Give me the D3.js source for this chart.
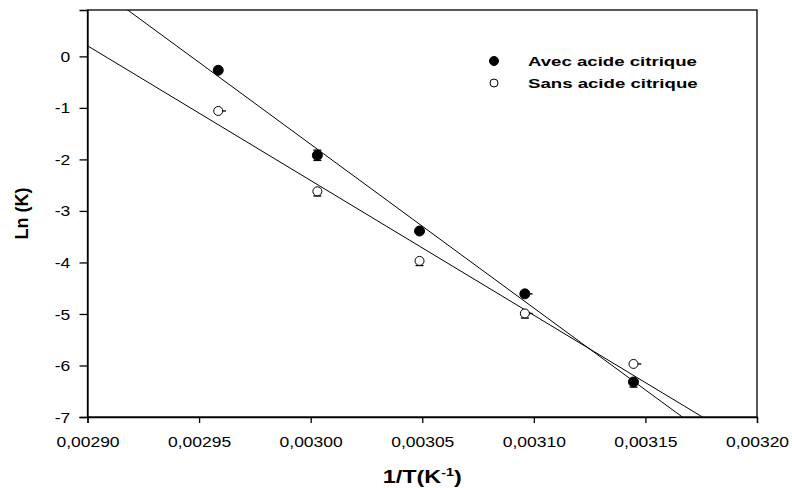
<!DOCTYPE html>
<html>
<head>
<meta charset="utf-8">
<script src="https://cdn.jsdelivr.net/npm/d3@7"></script>
<style>
  body { margin: 0; background: #fff; }
  text { font-family: "Liberation Sans", Arial, sans-serif; fill: #000; }
</style>
</head>
<body>
<div id="chart"></div>
<script>
// 1/T values (K^-1), T = 338, 333, 328, 323, 318 K
const invT = [1 / 338, 1 / 333, 1 / 328, 1 / 323, 1 / 318];
const lnAvec = [-0.27, -1.92, -3.39, -4.61, -6.32];
const lnSans = [-1.06, -2.62, -3.97, -4.99, -5.97];
// error bars (ln units / 1/T units)
const avecErrUp = [0, 0.1, 0, 0, 0];
const avecErrDown = [0, 0.1, 0, 0, 0.1];
const avecErrX = [0, 0, 0, 0.0000035, 0];
const sansErrUp = [0, 0, 0, 0, 0];
const sansErrDown = [0, 0.09, 0.09, 0.09, 0];
const sansErrX = [0.0000035, 0, 0, 0.0000035, 0.0000035];
const xTicks = [0.0029, 0.00295, 0.003, 0.00305, 0.0031, 0.00315, 0.0032];
const yTicks = [0, -1, -2, -3, -4, -5, -6, -7];
const legendLabels = ['Avec acide citrique', 'Sans acide citrique'];

const width = 792, height = 488;
const margin = { top: 10, right: 35, bottom: 71, left: 87.5 };
const sx = 1.25; // horizontal text stretch of the original

const svg = d3.select('#chart').append('svg')
    .attr('width', width)
    .attr('height', height);

const x = d3.scaleLinear().domain([0.0029, 0.0032]).range([margin.left, width - margin.right]);
const y = d3.scaleLinear().domain([-7, 0.9]).range([height - margin.bottom, margin.top]);

svg.append('clipPath').attr('id', 'plotClip')
    .append('rect')
    .attr('x', x.range()[0]).attr('y', y.range()[1])
    .attr('width', x.range()[1] - x.range()[0])
    .attr('height', y.range()[0] - y.range()[1]);

// frame
svg.append('rect')
    .attr('x', x.range()[0]).attr('y', y.range()[1])
    .attr('width', x.range()[1] - x.range()[0])
    .attr('height', y.range()[0] - y.range()[1])
    .attr('fill', 'none')
    .attr('stroke', '#000')
    .attr('stroke-width', 1.3);

const xAxis = svg.append('g')
    .attr('transform', 'translate(0,' + y.range()[0] + ')')
    .call(d3.axisBottom(x).tickValues(xTicks).tickSize(6)
        .tickFormat(d => d3.format('.5f')(d).replace('.', ',')));
xAxis.select('.domain').attr('stroke-width', 1.3);
xAxis.selectAll('line').attr('stroke-width', 1.3);
xAxis.selectAll('text')
    .attr('y', 30).attr('dy', 0)
    .attr('transform', 'scale(' + sx + ',1)')
    .style('font-size', '14px');

const yAxis = svg.append('g')
    .attr('transform', 'translate(' + x.range()[0] + ',0)')
    .call(d3.axisLeft(y).tickValues(yTicks).tickSize(8).tickFormat(d => String(d)));
yAxis.select('.domain').attr('stroke-width', 1.3);
yAxis.selectAll('line').attr('stroke-width', 1.3);
yAxis.selectAll('text')
    .attr('x', -17.3 / sx).attr('dy', '0.36em')
    .attr('transform', 'scale(' + sx + ',1)')
    .style('font-size', '14px');

// axis titles
const xTitle = svg.append('text')
    .attr('transform', 'translate(' + ((x.range()[0] + x.range()[1]) / 2) + ',483) scale(1.3,1)')
    .attr('text-anchor', 'middle')
    .style('font-size', '18px')
    .style('font-weight', 'bold');
xTitle.append('tspan').text('1/T(K');
xTitle.append('tspan').attr('dy', -7).style('font-size', '11px').text('-1');
xTitle.append('tspan').attr('dy', 7).text(')');

svg.append('text')
    .attr('transform', 'translate(28,' + ((y.range()[0] + y.range()[1]) / 2) + ') rotate(-90)')
    .attr('text-anchor', 'middle')
    .style('font-size', '18px')
    .style('font-weight', 'bold')
    .text('Ln (K)');

// least squares regression
function fit(xs, ys) {
    const mx = d3.mean(xs), my = d3.mean(ys);
    let sxy = 0, sxx = 0;
    xs.forEach((v, i) => { sxy += (v - mx) * (ys[i] - my); sxx += (v - mx) * (v - mx); });
    const b = sxy / sxx;
    return { b: b, a: my - b * mx };
}

const series = [
    { ys: lnAvec, up: avecErrUp, down: avecErrDown, ex: avecErrX, fill: '#000', r: 5 },
    { ys: lnSans, up: sansErrUp, down: sansErrDown, ex: sansErrX, fill: '#fff', r: 4.5 }
];

const plot = svg.append('g').attr('clip-path', 'url(#plotClip)');

series.forEach(s => {
    const f = fit(invT, s.ys);
    const dom = x.domain();
    plot.append('path')
        .datum(dom.map(v => [v, f.a + f.b * v]))
        .attr('d', d3.line().x(d => x(d[0])).y(d => y(d[1])))
        .attr('stroke', '#000')
        .attr('stroke-width', 1)
        .attr('fill', 'none');
});

series.forEach(s => {
    const g = svg.append('g');
    const pts = invT.map((v, i) => ({ x: v, y: s.ys[i], up: s.up[i], down: s.down[i], ex: s.ex[i] }));
    pts.forEach(p => {
        const capW = 4;
        if (p.up > 0) {
            g.append('line').attr('x1', x(p.x)).attr('x2', x(p.x)).attr('y1', y(p.y)).attr('y2', y(p.y + p.up)).attr('stroke', '#000');
            g.append('line').attr('x1', x(p.x) - capW).attr('x2', x(p.x) + capW).attr('y1', y(p.y + p.up)).attr('y2', y(p.y + p.up)).attr('stroke', '#000').attr('stroke-width', 1.3);
        }
        if (p.down > 0) {
            g.append('line').attr('x1', x(p.x)).attr('x2', x(p.x)).attr('y1', y(p.y)).attr('y2', y(p.y - p.down)).attr('stroke', '#000');
            g.append('line').attr('x1', x(p.x) - capW).attr('x2', x(p.x) + capW).attr('y1', y(p.y - p.down)).attr('y2', y(p.y - p.down)).attr('stroke', '#000').attr('stroke-width', 1.3);
        }
        if (p.ex > 0) {
            g.append('line').attr('x1', x(p.x)).attr('x2', x(p.x + p.ex)).attr('y1', y(p.y)).attr('y2', y(p.y)).attr('stroke', '#000').attr('stroke-width', 1.3);
        }
    });
    g.selectAll('circle').data(pts).join('circle')
        .attr('cx', d => x(d.x))
        .attr('cy', d => y(d.y))
        .attr('r', s.r)
        .attr('fill', s.fill)
        .attr('stroke', '#000')
        .attr('stroke-width', 1);
});

// legend
const legend = svg.append('g').attr('transform', 'translate(494,61)');
legendLabels.forEach((lab, i) => {
    legend.append('circle')
        .attr('cx', 0).attr('cy', i * 22)
        .attr('r', i === 0 ? 4.5 : 4)
        .attr('fill', series[i].fill)
        .attr('stroke', '#000');
    legend.append('text')
        .attr('transform', 'translate(34,' + (i * 22 + 4.7) + ') scale(1.38,1)')
        .style('font-size', '13.5px')
        .style('font-weight', 'bold')
        .text(lab);
});
</script>
</body>
</html>
